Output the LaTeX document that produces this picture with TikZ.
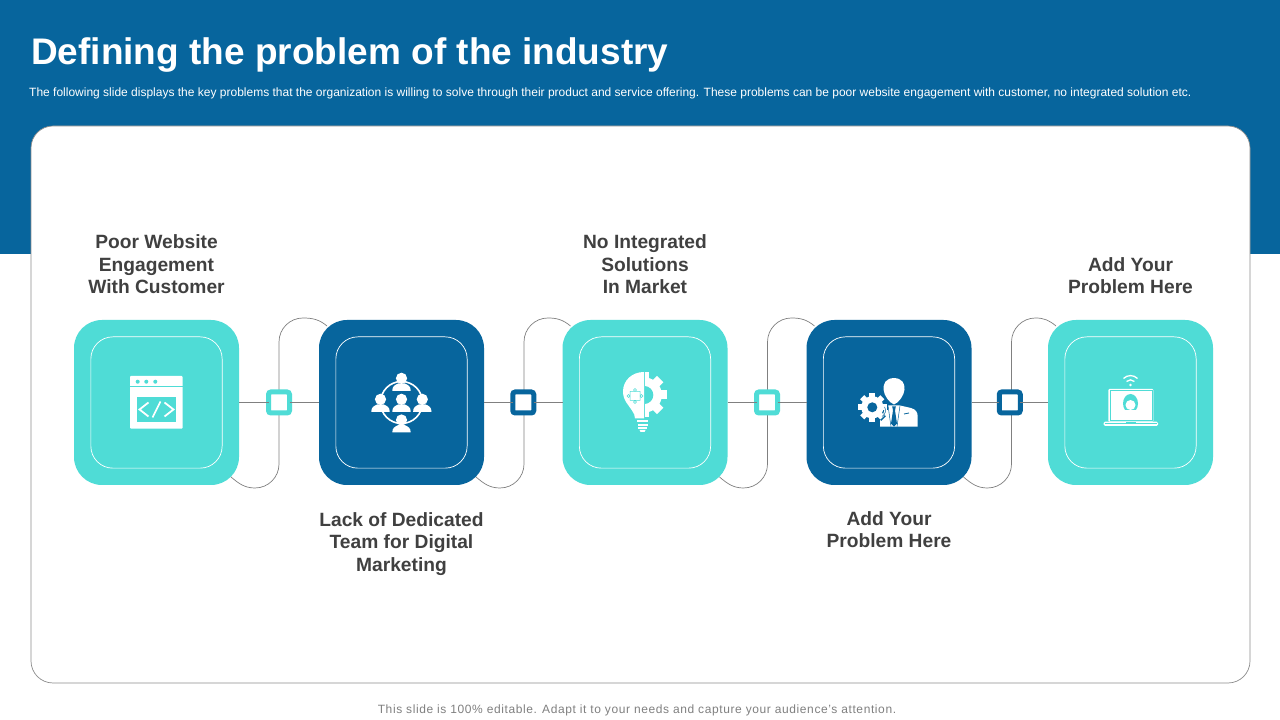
\documentclass[tikz,border=0pt]{standalone}
\usepackage{fontspec}
\setmainfont{Liberation Sans}
\usetikzlibrary{positioning,calc}
\definecolor{deepblue}{HTML}{07659D}
\definecolor{aqua}{HTML}{4FDCD6}
\definecolor{inktext}{HTML}{404040}

\begin{document}
\begin{tikzpicture}[
    x=1pt, y=1pt,
    node distance = 80pt,
    panel/.style={rectangle, draw=black!45, line width=0.7pt, rounded corners=22pt, fill=white, minimum width=1219pt, minimum height=557pt},
    box/.style={rectangle, rounded corners=28pt, minimum size=165pt, outer sep=0pt},
    frame/.style={rectangle, draw=white, line width=0.7pt, rounded corners=22pt, minimum size=131.3pt},
    joint/.style={rectangle, draw, line width=5pt, rounded corners=2.5pt, fill=white, minimum size=21pt, inner sep=0pt, outer sep=0pt},
    label/.style={align=center, inner sep=0pt, text=inktext, font=\fontsize{19.2}{22.5}\selectfont\bfseries},
    wire/.style={draw=black!50, line width=0.7pt},
    person/.pic={
      \fill[pic actions] (-9.2,-12.5) -- (9.2,-12.5) .. controls (9.2,-8) and (7,-6.8) .. (3,-5) -- (-3,-5) .. controls (-7,-6.8) and (-9.2,-8) .. (-9.2,-12.5) -- cycle;
      \fill[pic actions] (0,0) circle (5.6);
    },
    gear/.pic={
      \fill[pic actions] (0,0) circle (.78);
      \foreach \a in {0,45,...,315} \fill[pic actions, rotate=\a] (-.2,.7) rectangle (.2,1);
    }
  ]
    % Page
    \fill[white] (0,0) rectangle (1280,720);
    \useasboundingbox (0,0) rectangle (1280,720);
    \fill[deepblue] (0,466) rectangle (1280,720);
    \node[panel] (sheet) at (640.5,315.5) {};

    % Heading
    \node[anchor=base west, inner sep=0pt, text=white, font=\fontsize{37}{40}\selectfont\bfseries] (heading) at (31,655) {Defining the problem of the industry};
    \node[anchor=base west, inner sep=0pt, text=white, font=\fontsize{12}{14}\selectfont] (intro) at (29,623.5) {The following slide displays the key problems that the organization is willing to solve through their product and service offering. These problems can be poor website engagement with customer, no integrated solution etc.};
    \node[inner sep=0pt, text=black!50, font=\fontsize{12}{14}\selectfont\addfontfeature{LetterSpace=5}] (note) at (637,9.5) {This slide is 100\% editable. Adapt it to your needs and capture your audience's attention.};

    % Boxes
    \node[box, fill=aqua] (web) at (156.5,317.5) {};
    \node[box, fill=deepblue, right=of web] (team) {};
    \node[box, fill=aqua, right=78.5pt of team] (idea) {};
    \node[box, fill=deepblue, right=79pt of idea] (staff) {};
    \node[box, fill=aqua, right=76.5pt of staff] (laptop) {};

    \node[frame] (webframe) at (web) {};
    \node[frame] (teamframe) at (team) {};
    \node[frame] (ideaframe) at (idea) {};
    \node[frame] (staffframe) at (staff) {};
    \node[frame] (laptopframe) at (laptop) {};

    % Curved wires
    \draw[wire] ($(web.south east)+(-8,8)$) to[out=-40,in=180] ++(24,-11) to[out=0,in=-90] ++(24,24) -- ++(0,122) to[out=90,in=180] ++(24,24) to[out=0,in=140] ($(team.north west)+(8,-6)$);
    \draw[wire] ($(team.south east)+(-8,8)$) to[out=-40,in=180] ++(24,-11) to[out=0,in=-90] ++(24,24) -- ++(0,122) to[out=90,in=180] ++(24,24) to[out=0,in=140] ($(idea.north west)+(8,-6)$);
    \draw[wire] ($(idea.south east)+(-8,8)$) to[out=-40,in=180] ++(24,-11) to[out=0,in=-90] ++(24,24) -- ++(0,122) to[out=90,in=180] ++(24,24) to[out=0,in=140] ($(staff.north west)+(8,-6)$);
    \draw[wire] ($(staff.south east)+(-8,8)$) to[out=-40,in=180] ++(24,-11) to[out=0,in=-90] ++(24,24) -- ++(0,122) to[out=90,in=180] ++(24,24) to[out=0,in=140] ($(laptop.north west)+(8,-6)$);

    % Joints
    \node[joint, draw=aqua] (jointa) at ($(web)!0.5!(team)$) {};
    \node[joint, draw=deepblue] (jointb) at ($(team)!0.5!(idea)$) {};
    \node[joint, draw=aqua] (jointc) at ($(idea)!0.5!(staff)$) {};
    \node[joint, draw=deepblue] (jointd) at ($(staff)!0.5!(laptop)$) {};

    \draw[wire] (web) -- (jointa);
    \draw[wire] (jointa) -- (team);
    \draw[wire] (team) -- (jointb);
    \draw[wire] (jointb) -- (idea);
    \draw[wire] (idea) -- (jointc);
    \draw[wire] (jointc) -- (staff);
    \draw[wire] (staff) -- (jointd);
    \draw[wire] (jointd) -- (laptop);

    % Labels
    \node[label, above=26pt of web] (weblabel) {Poor Website\\Engagement\\With Customer};
    \node[label, below=27pt of team] (teamlabel) {Lack of Dedicated\\Team for Digital\\Marketing};
    \node[label, above=26pt of idea] (idealabel) {No Integrated\\Solutions\\In Market};
    \node[label, below=26pt of staff] (stafflabel) {Add Your\\Problem Here};
    \node[label, above=26pt of laptop] (laptoplabel) {Add Your\\Problem Here};

    % Icon: code window
    \begin{scope}[shift={(web.center)}]
      \fill[white, rounded corners=1pt] (-26.5,26.5) rectangle (26.2,-26.2);
      \draw[aqua, line width=0.4pt] (-26.5,16.5) -- (26.2,16.5);
      \fill[aqua] (-18.8,20.8) circle (2) (-10.2,20.8) circle (2) (-1.2,20.8) circle (2);
      \fill[aqua] (-19.8,5.2) rectangle (19.5,-19.5);
      \draw[white, line width=1.8pt] (-8,0) -- (-17,-7) -- (-8,-14);
      \draw[white, line width=1.8pt] (8,0) -- (17,-7) -- (8,-14);
      \draw[white, line width=1.6pt] (4,1) -- (-4,-15);
    \end{scope}

    % Icon: people in a ring
    \begin{scope}[shift={(team.center)}]
      \draw[white, line width=1.6pt] (0,0) circle (21);
      \fill[deepblue] (-16,-9) rectangle (16,9);
      \pic[fill=white] at (0,24.2) {person};
      \pic[fill=white] at (-21,3.2) {person};
      \pic[fill=white] at (0,3.2) {person};
      \pic[fill=white] at (20.8,3.2) {person};
      \pic[fill=white] at (0,-17.5) {person};
    \end{scope}

    % Icon: bulb and gear
    \begin{scope}[shift={(idea.center)}]
      \begin{scope}
        \clip (0,-20) rectangle (30,35);
        \pic[fill=white, scale=22.5] at (-.7,7.5) {gear};
        \fill[aqua] (-.7,7.5) circle (9);
      \end{scope}
      \fill[white] (-1,30.5) .. controls (-13,30.5) and (-22,22) .. (-22,11) .. controls (-22,2) and (-16,-3) .. (-13,-8) .. controls (-11,-11) and (-10,-13) .. (-10,-16) -- (-1,-16) -- cycle;
      \draw[aqua, line width=0.5pt] (-15,11) rectangle (-5,2) (-10,12.5) circle (1.5) (-16.5,6.5) circle (1.5) (-3.5,6.5) circle (1.5) (-10,.5) circle (1.5);
      \fill[white] (-8,-18) rectangle (3,-20);
      \fill[white] (-7.5,-21.5) rectangle (2.5,-23.5);
      \fill[white] (-7,-25) rectangle (2,-26.5);
      \fill[white] (-5.5,-27.5) -- (.5,-27.5) -- (-.5,-29.5) -- (-4.5,-29.5) -- cycle;
    \end{scope}

    % Icon: suit and gear
    \begin{scope}[shift={(staff.center)}]
      \fill[white] (-9,-24.2) -- (-9,-5) -- (-1,-3) -- (11,-3) -- (22,-5.5) .. controls (27,-7) and (28.7,-10) .. (28.7,-14) -- (28.7,-24.2) -- cycle;
      \fill[deepblue] (3.2,-4) -- (6.8,-4) -- (6,-8) -- (8,-21) -- (5,-24.2) -- (2,-21) -- (4,-8) -- cycle;
      \draw[deepblue, line width=0.5pt] (-1,-3) -- (2,-24.2) (11,-3) -- (8,-24.2);
      \draw[deepblue, line width=0.8pt] (15,-11.5) -- (20,-10.5);
      \fill[white] (5,24.4) .. controls (13,24.4) and (16,19) .. (15.5,13) .. controls (15,7) and (10,0) .. (5,-2) .. controls (0,0) and (-5,7) .. (-5.5,13) .. controls (-6,19) and (-3,24.4) .. (5,24.4) -- cycle;
      \pic[fill=deepblue, scale=16] at (-16.7,-4.8) {gear};
      \pic[fill=white, scale=14.3] at (-16.7,-4.8) {gear};
      \fill[deepblue] (-16.7,-4.8) circle (5);
      \draw[deepblue, line width=0.5pt] (-7,-14) arc (-60:30:7);
    \end{scope}

    % Icon: laptop with wifi
    \begin{scope}[shift={(laptop.center)}]
      \fill[white, rounded corners=1pt] (-22.2,13.5) rectangle (22.8,-19.2);
      \draw[aqua, line width=0.4pt] (-20.7,12) rectangle (21.3,-17.7);
      \fill[aqua] (0,-1) ellipse (7.5 and 9.5);
      \fill[white] (0,-2.5) circle (5);
      \fill[white] (-7,-11) rectangle (7,-8);
      \fill[white, rounded corners=1.5pt] (-27,-19.2) rectangle (27.5,-23.5);
      \draw[aqua, line width=0.4pt] (-25.5,-20.6) -- (26,-20.6);
      \fill[aqua] (-5,-20.6) rectangle (5,-19.2);
      \fill[white] (0,17.5) circle (1.4);
      \draw[white, line width=1.3pt] (-4,21) arc (135:45:5.6);
      \draw[white, line width=1.3pt] (-7,24) arc (135:45:9.9);
    \end{scope}
  \end{tikzpicture}
\end{document}
